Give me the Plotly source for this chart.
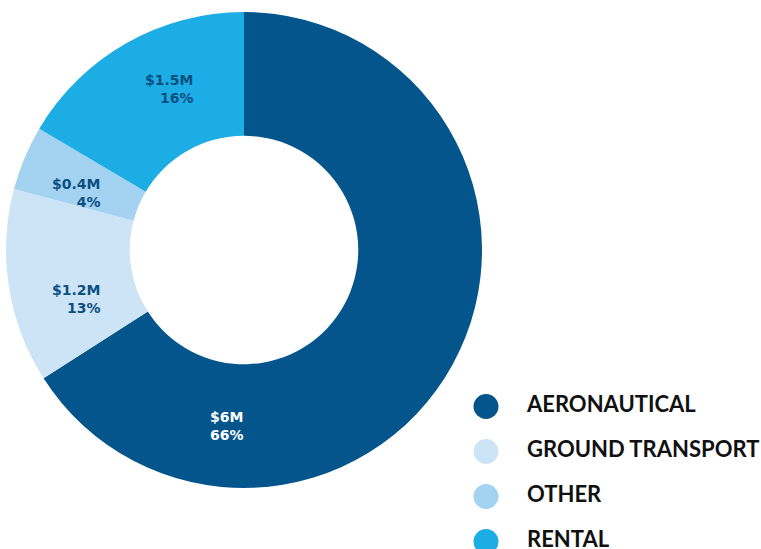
import plotly.graph_objects as go

# Revenue by source (millions of dollars)
categories = ["AERONAUTICAL", "GROUND TRANSPORT", "OTHER", "RENTAL"]
revenue_m = [6.0, 1.2, 0.4, 1.5]
slice_colors = ["#03558B", "#CDE4F6", "#A3D3F1", "#1BADE4"]
label_colors = ["#FFFFFF", "#0B4F82", "#0B4F82", "#0B4F82"]

W, H = 761, 549
total = sum(revenue_m)

# Donut geometry (pixels)
cx, cy, r = 244, 250, 238

fig = go.Figure()
fig.add_trace(go.Pie(
    labels=categories,
    values=revenue_m,
    sort=False,
    direction="clockwise",
    rotation=0,
    hole=0.48,
    marker=dict(colors=slice_colors, line=dict(width=0)),
    textinfo="none",
    hoverinfo="label+value+percent",
    showlegend=False,
    domain=dict(x=[(cx - r) / W, (cx + r) / W],
                y=[(H - cy - r) / H, (H - cy + r) / H]),
))

# Slice labels: value and share, placed by hand inside each slice
label_anchor = [  # (x px, block-centre y px, xanchor)
    (208, 425.5, "left"),
    (102, 299.0, "right"),
    (102, 193.0, "right"),
    (195, 88.5, "right"),
]
for v, col, (lx, ly, xa) in zip(revenue_m, label_colors, label_anchor):
    fig.add_annotation(
        x=lx / W, y=1 - ly / H, xref="paper", yref="paper",
        xanchor=xa, yanchor="middle", align="right" if xa == "right" else "left",
        text=f"${v:g}M<br>{round(100 * v / total)}%",
        showarrow=False,
        font=dict(family="DejaVu Sans", size=14, color=col, weight="bold"),
    )

# Legend drawn as a scatter of large circles with text beside them
fig.add_trace(go.Scatter(
    x=[0] * len(categories), y=categories, mode="markers",
    marker=dict(size=25, color=slice_colors, symbol="circle"),
    cliponaxis=False, showlegend=False, hoverinfo="skip",
))
fig.add_trace(go.Scatter(
    x=[1] * len(categories), y=categories, mode="text",
    text=categories, textposition="middle right",
    textfont=dict(family="Lato", size=22, color="#111111", weight="bold"),
    cliponaxis=False, showlegend=False, hoverinfo="skip",
))

# Axis scale: x=0 at the circles, x=1 where the text starts
marker_x, text_x = 486, 527
unit = text_x - marker_x
leg_top_px, leg_row = 384.0, 45
fig.update_xaxes(visible=False, domain=[0, 1],
                 range=[-marker_x / unit, (W - marker_x) / unit])
fig.update_yaxes(visible=False, type="category",
                 domain=[0, (H - leg_top_px) / H],
                 range=[-0.5 + (H - leg_top_px) / leg_row, -0.5])

fig.update_layout(
    width=W, height=H,
    margin=dict(l=0, r=0, t=0, b=0),
    paper_bgcolor="white", plot_bgcolor="rgba(0,0,0,0)",
)

fig.write_html("out.html")
